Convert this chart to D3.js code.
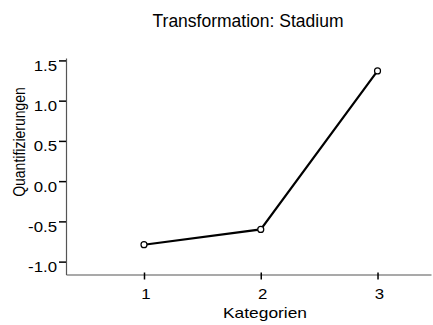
<!DOCTYPE html>
<html><head><meta charset="utf-8">
<script src="https://cdn.jsdelivr.net/npm/d3@7"></script>
<style>body{margin:0;background:#fff}svg{display:block}text{font-family:"Liberation Sans",Arial,sans-serif;fill:#000}</style>
</head><body><svg id="c" width="433" height="325"></svg>
<script>
const categories = [1, 2, 3];
const values = [-0.79, -0.60, 1.37];
const yTicks = [-1.0, -0.5, 0.0, 0.5, 1.0, 1.5];
const title = "Transformation: Stadium";
const xTitle = "Kategorien";
const yTitle = "Quantifizierungen";

const svg = d3.select("#c");
const x = d3.scaleLinear().domain([0.332, 3.458]).range([66, 431]);
const y = d3.scaleLinear().domain([-1.16, 1.53]).range([274.5, 58]);

function stretch(sel, k) {
  sel.each(function () {
    const w = this.getComputedTextLength();
    d3.select(this).attr("textLength", w * k).attr("lengthAdjust", "spacingAndGlyphs");
  });
}

const axisColor = "#555";
const yAxis = svg.append("g").attr("transform", "translate(66,0)")
  .call(d3.axisLeft(y).tickValues(yTicks).tickSize(7).tickSizeOuter(0)
    .tickFormat(d => d3.format(".1f")(d).replace("−", "-")));
yAxis.select(".domain").attr("stroke", axisColor).attr("stroke-width", 1.2);
yAxis.selectAll(".tick line").attr("stroke", "#000").attr("stroke-width", 1.5);
yAxis.selectAll(".tick text").attr("font-size", 14).attr("x", -9).attr("dy", "0.71em");
stretch(yAxis.selectAll(".tick text"), 1.2);

const xAxis = svg.append("g").attr("transform", "translate(0," + y.range()[0] + ")")
  .call(d3.axisBottom(x).tickValues(categories).tickFormat(d3.format("d")).tickSize(5).tickSizeOuter(0));
xAxis.select(".domain").attr("stroke", axisColor).attr("stroke-width", 1.2);
xAxis.selectAll(".tick line").attr("stroke", "#000").attr("stroke-width", 1.5).attr("y1", -2);
xAxis.selectAll(".tick text").attr("font-size", 14).attr("y", 14.5).attr("dx", 1.5);
stretch(xAxis.selectAll(".tick text"), 1.2);

const line = d3.line().x((d, i) => x(categories[i])).y(d => y(d));
svg.append("path").datum(values).attr("d", line).attr("fill", "none")
  .attr("stroke", "#000").attr("stroke-width", 2.2);
svg.selectAll("circle.p").data(values).enter().append("circle")
  .attr("cx", (d, i) => x(categories[i])).attr("cy", d => y(d)).attr("r", 3)
  .attr("fill", "#fff").attr("stroke", "#000").attr("stroke-width", 1.2);

const t = svg.append("text").attr("x", 248).attr("y", 27).attr("text-anchor", "middle")
  .attr("font-size", 17.5).text(title);
const xl = svg.append("text").attr("x", 265).attr("y", 318).attr("text-anchor", "middle")
  .attr("font-size", 15).text(xTitle);
stretch(xl, 84 / (xl.node().getComputedTextLength()));
svg.append("text").attr("transform", "translate(25,142) scale(1.15,1) rotate(-90)").attr("text-anchor", "middle")
  .attr("font-size", 14).text(yTitle);
</script></body></html>
